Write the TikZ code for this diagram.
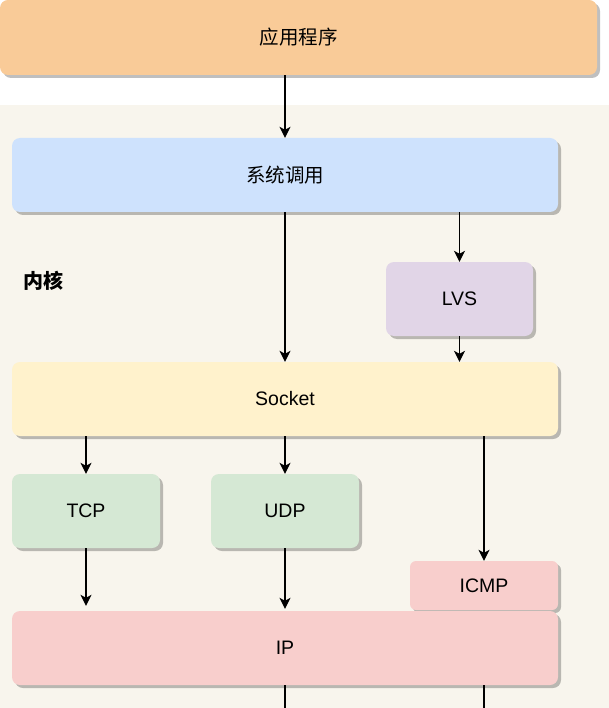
\documentclass[tikz,border=0pt]{standalone}
\usepackage{fontspec}
\setmainfont{Liberation Sans}
\newfontfamily\cjk{Noto Sans CJK SC}
\usetikzlibrary{arrows.meta,shadows}
\definecolor{appfill}{HTML}{F9CB98}
\definecolor{kernbg}{HTML}{F8F5ED}
\definecolor{sysfill}{HTML}{CEE2FD}
\definecolor{lvsfill}{HTML}{E1D5E7}
\definecolor{sockfill}{HTML}{FFF2CC}
\definecolor{tcpfill}{HTML}{D5E8D4}
\definecolor{ipfill}{HTML}{F8CECC}
\tikzset{
  box/.style={rectangle, rounded corners=8pt, inner sep=0pt, draw=none,
    font=\fontsize{19.5}{23}\selectfont,
    drop shadow={shadow xshift=3pt, shadow yshift=-3pt, fill=black, opacity=0.25}},
  arr/.style={-{Stealth[length=11pt,width=11pt,inset=3pt]}, line width=1.2pt, black},
  ln/.style={line width=1.2pt, black}
}
\begin{document}
\begin{tikzpicture}[x=1pt,y=1pt]
\useasboundingbox (0,0) rectangle (609,-708);
\fill[kernbg] (0,-105) rectangle (609,-708);
\node[box, fill=appfill, minimum width=597pt, minimum height=75pt] (app) at (298.5,-37.5) {\cjk 应用程序};
\node[box, fill=sysfill, minimum width=546pt, minimum height=74pt] (sys) at (285,-175) {\cjk 系统调用};
\node[font=\fontsize{20}{24}\selectfont\cjk\bfseries] (kern) at (43,-281) {内核};
\node[box, fill=lvsfill, minimum width=147pt, minimum height=74pt] (lvs) at (459.5,-299) {LVS};
\node[box, fill=sockfill, minimum width=546pt, minimum height=74pt] (sock) at (285,-399) {Socket};
\node[box, fill=tcpfill, minimum width=148pt, minimum height=74pt] (tcp) at (86,-511) {TCP};
\node[box, fill=tcpfill, minimum width=148pt, minimum height=74pt] (udp) at (285,-511) {UDP};
\node[box, fill=ipfill, minimum width=148pt, minimum height=49pt, rounded corners=6pt] (icmp) at (484,-585.5) {ICMP};
\node[box, fill=ipfill, minimum width=546pt, minimum height=74pt] (ip) at (285,-648) {IP};
\coordinate (bot) at (285,-708);
\draw[arr] (sys.north |- app.south) -- (sys.north);
\draw[arr] (sys.south) -- (sock.north);
\draw[arr] (lvs.north |- sys.south) -- (lvs.north);
\draw[arr] (lvs.south) -- (lvs.south |- sock.north);
\draw[arr] (tcp.north |- sock.south) -- (tcp.north);
\draw[arr] (udp.north |- sock.south) -- (udp.north);
\draw[arr] (icmp.north |- sock.south) -- (icmp.north);
\draw[arr, shorten >=5pt] (tcp.south) -- (tcp.south |- ip.north);
\draw[arr, shorten >=2pt] (udp.south) -- (ip.north);
\draw[ln] (ip.south) -- (bot);
\draw[ln] (icmp.south |- ip.south) -- (icmp.south |- bot);
\end{tikzpicture}
\end{document}
